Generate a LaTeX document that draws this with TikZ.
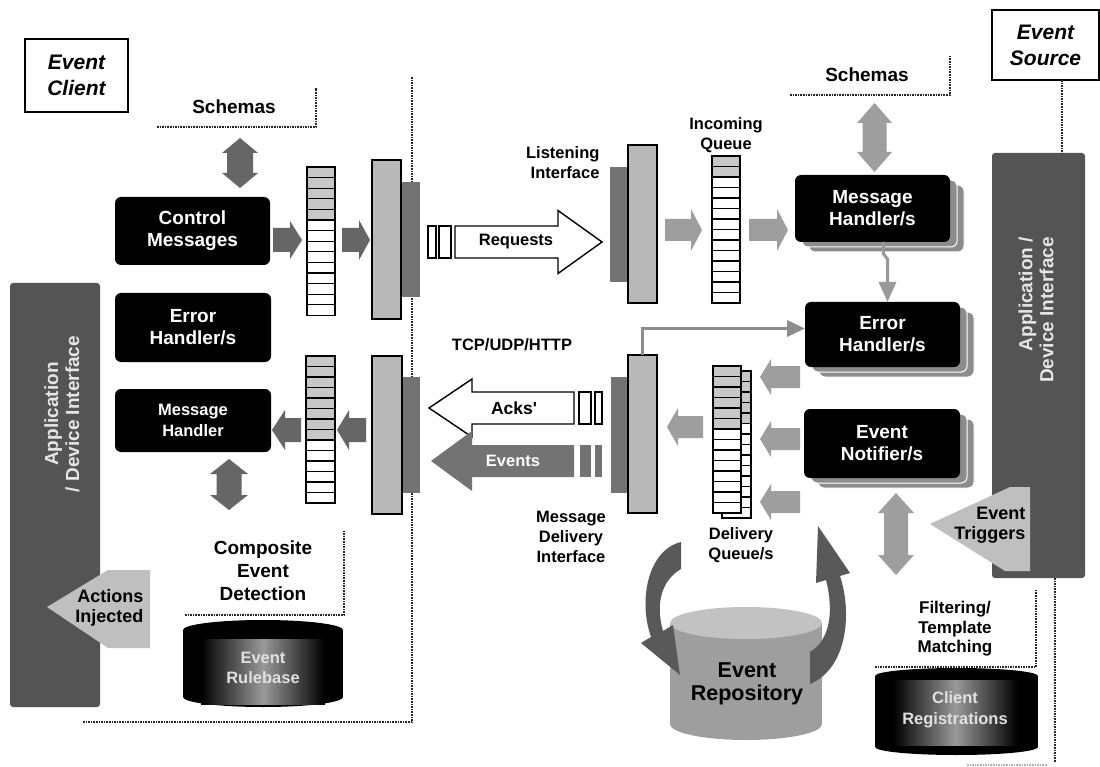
\documentclass[tikz,border=0pt]{standalone}
\usepackage{fontspec}
\setmainfont{Liberation Sans}
\usetikzlibrary{arrows.meta,calc}
\definecolor{apppat}{gray}{0.33}
\definecolor{darr}{gray}{0.40}
\definecolor{larr}{gray}{0.62}
\definecolor{ifl}{gray}{0.72}
\definecolor{ifd}{gray}{0.45}
\definecolor{qpat}{gray}{0.78}
\definecolor{shpat}{gray}{0.55}
\definecolor{tripat}{gray}{0.75}
\definecolor{reppat}{gray}{0.62}
\definecolor{reptop}{gray}{0.76}
\definecolor{cres}{gray}{0.35}
\definecolor{evpat}{gray}{0.45}

\newcommand\fLab{\bfseries\fontsize{19}{21}\selectfont}
\newcommand\fArr{\bfseries\fontsize{18}{20}\selectfont}
\newcommand\fSm{\bfseries\fontsize{16.5}{20}\selectfont}
\newcommand\fFil{\bfseries\fontsize{17}{19.5}\selectfont}
\newcommand\fCed{\bfseries\fontsize{19}{23}\selectfont}
\newcommand\fBox{\bfseries\fontsize{19}{22}\selectfont}
\newcommand\fMid{\bfseries\fontsize{16.5}{20.5}\selectfont}
\newcommand\fTit{\bfseries\itshape\fontsize{21}{26}\selectfont}
\newcommand\fApp{\bfseries\fontsize{19}{21}\selectfont}
\newcommand\fRep{\bfseries\fontsize{21.5}{23}\selectfont}

% horizontal fat arrow: style, x tail, x head base, x tip, y centre, shaft half, head half
\newcommand\myharrow[7]{\path[#1] (#2,#5-#6) -- (#3,#5-#6) -- (#3,#5-#7) -- (#4,#5) -- (#3,#5+#7) -- (#3,#5+#6) -- (#2,#5+#6) -- cycle;}
% vertical double arrow: style, x centre, y top, y bottom, shaft half, head half, head length
\newcommand\myvdarrow[7]{\path[#1] (#2,#3) -- (#2+#6,#3+#7) -- (#2+#5,#3+#7) -- (#2+#5,#4-#7) -- (#2+#6,#4-#7) -- (#2,#4) -- (#2-#6,#4-#7) -- (#2-#5,#4-#7) -- (#2-#5,#3+#7) -- (#2-#6,#3+#7) -- cycle;}
% queue: x left, y top, width, cells, patterned cells, cell height
\newcommand\myqueue[6]{\foreach \qi in {1,...,#4}{\pgfmathsetmacro\qy{#2+(\qi-1)*#6}\ifnum\qi>#5\relax\path[qw] (#1,\qy) rectangle ++(#3,#6);\else\path[qp] (#1,\qy) rectangle ++(#3,#6);\fi}}
% cylinder: body fill, top fill, cx, half width, y top centre, y bottom centre, ry
\newcommand\mycyl[7]{\fill[#1] (#3-#4,#5) rectangle (#3+#4,#6);
 \fill[#1] (#3,#6) ellipse [x radius=#4pt, y radius=#7pt];
 \fill[#2] (#3,#5) ellipse [x radius=#4pt, y radius=#7pt];}

\begin{document}
\begin{tikzpicture}[x=1pt,y=-1pt,
 qw/.style={draw=black, line width=1.3pt, fill=white},
 qp/.style={draw=black, line width=1.3pt, fill=qpat},
 warr/.style={draw=black, line width=1.4pt, fill=white},
 hbox/.style={fill=black, text=white, rounded corners=6pt, inner sep=0pt, outer sep=0pt, align=center, font=\fBox},
 shbox/.style={fill=shpat, draw=white, line width=1pt, rounded corners=6pt, inner sep=0pt, outer sep=0pt},
 ifbox/.style={fill=ifl, draw=black, line width=1.3pt, inner sep=0pt, outer sep=0pt},
 appbox/.style={fill=apppat, rounded corners=3pt, inner sep=0pt, outer sep=0pt},
 apptext/.style={rotate=90, align=center, text=black!10, font=\fApp},
 titbox/.style={draw=black, line width=1.5pt, fill=white, inner sep=0pt, outer sep=0pt, align=center, font=\fTit},
 bline/.style={line width=1.6pt, densely dotted, black!85},
 dotconn/.style={line width=3.5pt, black!45, -{Triangle[width=16pt,length=18pt]}},
 zigconn/.style={line width=3pt, black!40, -{Triangle[width=17pt,length=20pt]}}]

\path[use as bounding box, fill=white] (0,0) rectangle (1100,767);

% client boundary
\draw[bline] (412,77) -- (412,722) -- (83,722);

% title boxes
\node[titbox, minimum width=103, minimum height=73] (eclient) at (76.5,75.5) {Event\\Client};
\node[titbox, minimum width=107, minimum height=70] (esrc) at (1045.5,45) {Event\\Source};

% ---------------- client side ----------------
\node[font=\fLab] (schL) at (234,107) {Schemas};
\draw[bline] (157,127) -- (316,127) -- (316,88);
\myvdarrow{fill=darr}{240}{138}{188}{13}{18}{15}

\node[hbox, minimum width=155, minimum height=68] (cm) at (192.5,231) {Control\\Messages};
\node[hbox, minimum width=156, minimum height=69] (ehL) at (193,327.5) {Error\\Handler/s};
\node[hbox, font=\fMid, minimum width=156, minimum height=63] (mhL) at (193,420.5) {Message\\Handler};

\myharrow{fill=darr}{273}{290}{302}{240}{12}{19}
\myqueue{307}{167}{28}{14}{5}{10.6}
\myharrow{fill=darr}{342}{359}{370}{240}{12}{20}
\fill[ifd] (401,182) rectangle (420,297);
\node[ifbox, minimum width=29, minimum height=159] (ifU) at (386.5,239.5) {};

\myqueue{306}{356}{29}{14}{8}{10.5}
\fill[ifd] (402,377) rectangle (420,493);
\node[ifbox, minimum width=30, minimum height=158] (ifL) at (387,435) {};
\myharrow{fill=darr}{366}{349}{337}{430}{12}{20}
\myharrow{fill=darr}{301}{285}{272}{430}{12}{20}
\myvdarrow{fill=darr}{229}{459}{510}{12.5}{19}{15}

\node[font=\fCed, align=center] (ced) at (263,571) {Composite\\Event\\Detection};
\draw[bline] (185,615) -- (344,615) -- (344,530);
\mycyl{black}{black}{263}{80}{630}{697}{10}
\shade[left color=black, right color=black, middle color=black!40] (201,639) rectangle (325,704);
\node[font=\fMid, text=black!12, align=center] (rb) at (263,668) {Event\\Rulebase};

\node[appbox, minimum width=90, minimum height=424] (appL) at (55,495) {};
\node[apptext] (appLt) at (62,414) {Application\\/ Device Interface};
\path[fill=tripat] (150,570) -- (108,570) -- (47,607) -- (108,648) -- (150,648) -- cycle;
\node[font=\fArr, align=right, anchor=east] (act) at (147,608) {Actions\\Injected};

% ---------------- network ----------------
\draw[warr] (428,226) rectangle (436,258);
\draw[warr] (439,226) rectangle (451,258);
\myharrow{warr}{455}{558}{602}{242}{16}{31.5}
\node[font=\fSm] (req) at (516,242) {Requests};

\node[font=\fSm] (tcp) at (512,345) {TCP/UDP/HTTP};

\myharrow{warr}{574}{472}{429}{408}{16}{29}
\draw[warr] (579,392) rectangle (591,424);
\draw[warr] (595,392) rectangle (602,424);
\node[font=\bfseries\fontsize{17.5}{20}\selectfont] (acks) at (514,408) {Acks\textquotesingle};
\myharrow{fill=evpat}{574}{472}{431}{461}{16}{30}
\fill[evpat] (580,445) rectangle (591,477);
\fill[evpat] (595,445) rectangle (602,477);
\node[font=\fSm, text=white] (evs) at (513,461) {Events};

% ---------------- source side ----------------
\node[font=\fSm, align=right, anchor=east] (lit) at (603,163) {Listening\\Interface};
\fill[ifd] (610,167) rectangle (628,282);
\node[ifbox, minimum width=29, minimum height=158] (liR) at (642.5,224) {};
\myharrow{fill=larr}{665}{691}{702}{230}{11}{21}
\node[font=\fSm, align=center] (iqt) at (726,135) {Incoming\\Queue};
\myqueue{712}{156}{28}{14}{2}{10.5}
\myharrow{fill=larr}{749}{777}{788}{230}{11}{21}

\node[font=\fLab] (schR) at (867,75) {Schemas};
\draw[bline] (790,95) -- (950,95) -- (950,55);
\myvdarrow{fill=larr}{874.5}{103}{172}{12}{17.5}{20}

\node[shbox, minimum width=155, minimum height=67] (mhRs2) at (886.5,218.5) {};
\node[shbox, minimum width=155, minimum height=67] (mhRs1) at (879.5,213.5) {};
\node[hbox, minimum width=155, minimum height=67] (mhR) at (872.5,208.5) {Message\\Handler/s};

\node[shbox, minimum width=155, minimum height=65] (ehRs2) at (896.5,344.5) {};
\node[shbox, minimum width=155, minimum height=65] (ehRs1) at (889.5,339.5) {};
\node[hbox, minimum width=155, minimum height=65] (ehR) at (882.5,334.5) {Error\\Handler/s};

\node[shbox, minimum width=156, minimum height=69] (enRs2) at (896,453.5) {};
\node[shbox, minimum width=156, minimum height=69] (enRs1) at (889,448.5) {};
\node[hbox, minimum width=156, minimum height=69] (enR) at (882,443.5) {Event\\Notifier/s};

\draw[zigconn] ($(mhR.south)+(11,0)$) -- ++(0,12) -- ++(4,5) -- ($(ehR.north)+(5,0)$);

\fill[ifd] (611,377) rectangle (628,493);
\node[ifbox, minimum width=29, minimum height=158] (diR) at (642.5,434) {};
\draw[dotconn] (diR.north) |- ($(ehR.west)+(0,-6)$);
\node[font=\fSm, align=center] (mdi) at (571,537) {Message\\Delivery\\Interface};

\myqueue{722}{371}{29}{14}{5}{10.5}
\myqueue{713}{366}{28}{14}{6}{10.5}
\myharrow{fill=larr}{703}{678}{667}{427}{11}{19}
\node[font=\fSm, align=center] (dqt) at (741,545) {Delivery\\Queue/s};
\myharrow{fill=larr}{800}{771}{760}{377}{11}{18}
\myharrow{fill=larr}{800}{771}{760}{439}{11}{18}
\myharrow{fill=larr}{800}{771}{760}{502}{11}{18}

\node[appbox, minimum width=93, minimum height=425] (appR) at (1038.5,365.5) {};
\node[apptext, align=right] (appRt) at (1036,310) {Application /\\Device Interface};
\path[fill=tripat] (1030,487) -- (1010,487) -- (930,524) -- (1005,571) -- (1030,571) -- cycle;
\node[font=\fArr, align=right, anchor=east] (etr) at (1029,525) {Event\\Triggers};
\myvdarrow{fill=larr}{896}{493}{575}{12}{18}{20}

\draw[bline] ($(esrc.south east)+(-37,0)$) -- ($(appR.north east)+(-23,0)$);
\draw[bline] ($(appR.south east)+(-30,0)$) -- ++(0,184);
\draw[bline, black!30] (967,765) -- (1047,765);

\node[font=\fFil, align=center] (ftm) at (955,629) {Filtering/\\Template\\Matching};
\mycyl{black}{black}{956.5}{81.5}{676}{747}{8}
\shade[left color=black, right color=black, middle color=black!40] (893,680) rectangle (1018,745);
\node[font=\fMid, text=black!12, align=center] (creg) at (955,710) {Client\\Registrations};
\draw[bline] (875,667) -- (1036,667) -- (1036,590);

% repository and circulation arrows
\mycyl{reppat}{reptop}{746}{76}{623}{724}{16}
\node[font=\fRep, align=center] (erep) at (747,683.5) {Event\\Repository};
\fill[cres] (681,542) .. controls (648,550) and (638,600) .. (651,637) -- (641,643) -- (680,675) -- (673,625) -- (663,631) .. controls (655,603) and (662,580) .. (681,569) -- cycle;
\fill[cres] (810,684) .. controls (848,668) and (852,612) .. (840,576) -- (850,573) -- (818,526) -- (816,583) -- (826,580) .. controls (834,612) and (830,640) .. (810,652) -- cycle;

\end{tikzpicture}
\end{document}
